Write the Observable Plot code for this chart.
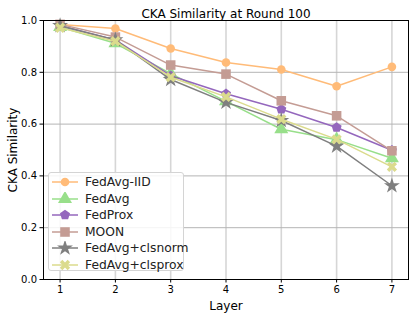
<!DOCTYPE html>
<html>
<head>
<meta charset="utf-8">
<script src="https://cdn.jsdelivr.net/npm/d3@7"></script>
<script src="https://cdn.jsdelivr.net/npm/@observablehq/plot@0.6"></script>
<style>
  body { margin: 0; background: #fff; font-family: "DejaVu Sans", sans-serif; }
  #wrap { position: relative; width: 415px; height: 317px; }
  #legend { position: absolute; left: 48px; top: 172px; width: 136px; height: 99px;
    border: 1px solid #d4d4d4; border-radius: 3px; background: rgba(255,255,255,0.85); box-sizing: border-box; }
  .row { position: absolute; left: 3px; height: 16px; display: flex; align-items: center; font-size: 12.3px; color: #222; }
  .row svg { margin-right: 7px; }
</style>
</head>
<body>
<div id="wrap"><div id="chart"></div><div id="legend"></div></div>
<script>
const layers = [1, 2, 3, 4, 5, 6, 7];
const seriesNames = ["FedAvg-IID", "FedAvg", "FedProx", "MOON", "FedAvg+clsnorm", "FedAvg+clsprox"];
const seriesColors = ["#ffbb78", "#98df8a", "#9467bd", "#c49c94", "#7f7f7f", "#dbdb8d"];
const fedAvgIID = [0.985, 0.969, 0.892, 0.838, 0.811, 0.746, 0.821];
const fedAvg    = [0.975, 0.912, 0.795, 0.688, 0.580, 0.540, 0.468];
const fedProx   = [0.980, 0.925, 0.787, 0.717, 0.657, 0.587, 0.499];
const moon      = [0.985, 0.936, 0.828, 0.793, 0.690, 0.632, 0.497];
const clsnorm   = [0.980, 0.925, 0.772, 0.684, 0.614, 0.515, 0.362];
const clsprox   = [0.972, 0.920, 0.781, 0.705, 0.619, 0.541, 0.435];
const yTicks = [0, 0.2, 0.4, 0.6, 0.8, 1.0];
const titleText = "CKA Similarity at Round 100";

const pentagon = {
  draw(ctx, size) {
    const r = Math.sqrt(size / 2.378);
    for (let i = 0; i < 5; i++) {
      const a = -Math.PI / 2 + i * 2 * Math.PI / 5;
      const x = r * Math.cos(a), y = r * Math.sin(a);
      i ? ctx.lineTo(x, y) : ctx.moveTo(x, y);
    }
    ctx.closePath();
  }
};
const xFilled = {
  draw(ctx, size) {
    const R = Math.sqrt(size) * 0.62, w = 0.32;
    const pts = [[w,w],[w,1],[-w,1],[-w,w],[-1,w],[-1,-w],[-w,-w],[-w,-1],[w,-1],[w,-w],[1,-w],[1,w]];
    const c = Math.SQRT1_2;
    pts.forEach(([px, py], i) => {
      const x = R * (px * c - py * c), y = R * (px * c + py * c);
      i ? ctx.lineTo(x, y) : ctx.moveTo(x, y);
    });
    ctx.closePath();
  }
};
const symbols = [d3.symbolCircle, d3.symbolTriangle, pentagon, d3.symbolSquare, d3.symbolStar, xFilled];
const radii = [4.3, 5.2, 4.6, 5.4, 5.0, 5.0];
const allValues = [fedAvgIID, fedAvg, fedProx, moon, clsnorm, clsprox];

const marks = [
  Plot.ruleX(layers, {stroke: "#d6d6d6", strokeWidth: 1.6}),
  Plot.ruleY(yTicks, {stroke: "#b4b4b4", strokeWidth: 1}),
];
allValues.forEach((vals, k) => {
  const data = layers.map((l, i) => ({layer: l, v: vals[i]}));
  marks.push(Plot.line(data, {x: "layer", y: "v", stroke: seriesColors[k], strokeWidth: 1.5}));
  marks.push(Plot.dot(data, {x: "layer", y: "v", fill: seriesColors[k], stroke: "none", symbol: symbols[k], r: radii[k]}));
});
marks.push(
  Plot.frame({stroke: "#000", strokeWidth: 1}),
  Plot.axisX({ticks: layers, tickSize: 3.5, tickPadding: 3, fontSize: 10, tickFormat: d => d, label: "Layer", labelAnchor: "center", labelArrow: "none", labelOffset: 30}),
  Plot.axisY({ticks: yTicks, tickSize: 3.5, tickPadding: 3, fontSize: 10, tickFormat: d3.format(".1f"), label: "CKA Similarity", labelAnchor: "center", labelArrow: "none", labelOffset: 35}),
  Plot.text([titleText], {frameAnchor: "top", dy: -11, fontSize: 12, fill: "#000"})
);

const chart = Plot.plot({
  width: 415, height: 317,
  marginLeft: 43, marginRight: 7, marginTop: 20, marginBottom: 38,
  style: {fontFamily: "DejaVu Sans, sans-serif", color: "#000", background: "#fff"},
  x: {domain: [0.7, 7.3]},
  y: {domain: [0, 1]},
  marks
});
chart.querySelectorAll("g[aria-label='x-axis label'] text, g[aria-label='y-axis label'] text").forEach(t => t.setAttribute("font-size", 12));
document.getElementById("chart").appendChild(chart);

const legend = document.getElementById("legend");
seriesNames.forEach((name, k) => {
  const row = document.createElement("div");
  row.className = "row";
  row.style.top = (1 + k * 16.5) + "px";
  const s = d3.create("svg").attr("width", 26).attr("height", 14);
  s.append("line").attr("x1", 0).attr("x2", 26).attr("y1", 7).attr("y2", 7).attr("stroke", seriesColors[k]).attr("stroke-width", 1.5);
  s.append("path").attr("d", d3.symbol(symbols[k], Math.PI * radii[k] * radii[k])()).attr("transform", "translate(13,7)").attr("fill", seriesColors[k]);
  row.appendChild(s.node());
  const t = document.createElement("span");
  t.textContent = name;
  row.appendChild(t);
  legend.appendChild(row);
});
</script>
</body>
</html>
